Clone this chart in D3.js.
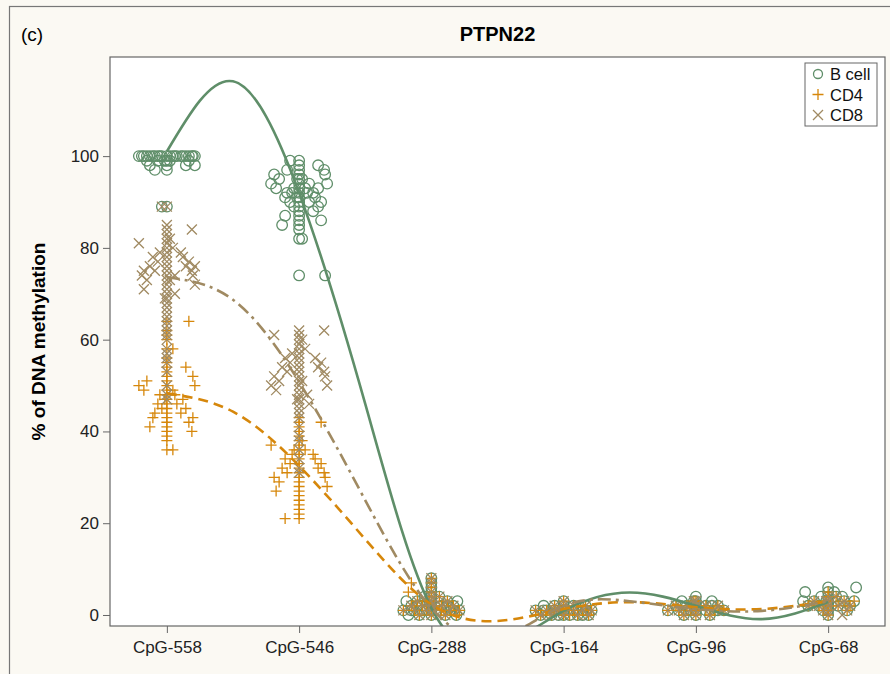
<!DOCTYPE html>
<html>
<head>
<meta charset="utf-8">
<script src="https://cdn.jsdelivr.net/npm/d3@7"></script>
<style>
  body { margin: 0; background: #fbf9f3; }
  svg { display: block; font-family: "Liberation Sans", Arial, sans-serif; }
</style>
</head>
<body>
<svg width="890" height="674"></svg>
<script>
const cpgs = ['CpG-558', 'CpG-546', 'CpG-288', 'CpG-164', 'CpG-96', 'CpG-68']
const groups = ['B cell', 'CD4', 'CD8']
const yTicks = [0, 20, 40, 60, 80, 100]

// % methylation per subject, one list per CpG site
const bcell = [
  [100,100,100,100,100,100,100,100,100,100,100,100,100,100,100,100,100,100,100,100,100,100,99,99,99,99,99,99,98,98,98,98,97,97,89,89],
  [99,99,98,98,97,97,97,96,96,96,95,95,95,95,94,94,94,94,93,93,93,93,93,92,92,92,92,92,91,91,91,91,90,90,90,90,89,89,89,88,88,87,87,86,86,85,85,84,82,82,74,74],
  [8,7,6,5,4,4,4,3,3,3,3,3,3,2,2,2,2,2,2,2,2,2,1,1,1,1,1,1,1,1,1,1,0,0,0,0,0],
  [3,2,2,2,2,2,1,1,1,1,1,1,1,1,1,1,1,1,0,0,0,0,0,0,0,0],
  [4,3,3,3,3,2,2,2,2,2,2,2,2,1,1,1,1,1,1,1,1,1,0,0,0],
  [6,6,5,5,5,4,4,4,4,3,3,3,3,3,3,2,2,2,2,2,2,1,1,1,0]
]
const cd4 = [
  [64,64,62,61,60,58,58,56,55,54,54,53,52,52,51,51,50,50,50,49,49,49,48,48,48,47,47,47,46,46,46,45,45,45,44,44,44,43,43,43,42,42,41,41,40,40,39,38,36,36],
  [43,42,42,41,40,39,38,38,37,37,36,36,36,35,35,35,34,34,34,33,33,33,32,32,32,31,31,31,30,30,30,29,29,28,28,27,27,26,25,24,23,22,21,21],
  [8,7,7,6,5,5,4,4,3,3,3,3,2,2,2,2,2,2,1,1,1,1,1,1,1,0,0,0,0],
  [3,2,2,2,2,1,1,1,1,1,1,1,1,1,0,0,0,0,0,0],
  [3,3,2,2,2,2,2,2,1,1,1,1,1,1,1,0,0,0],
  [5,4,4,3,3,3,3,3,2,2,2,2,2,2,1,1,1,0]
]
const cd8 = [
  [89,89,85,84,84,83,82,82,81,81,80,80,79,79,79,78,78,78,77,77,77,76,76,76,76,75,75,75,75,74,74,74,74,73,73,73,72,72,71,71,70,70,69,69,68,67,66,65,64,63,62,61,60,58,57,56,55,53,50,48,47],
  [62,62,61,61,60,60,59,58,58,57,57,56,56,56,55,55,55,54,54,54,53,53,53,52,52,52,51,51,51,50,50,50,49,49,48,48,47,47,46,46,45,44,43,41,39,38,36,34,32,31],
  [8,7,5,4,4,3,3,3,3,2,2,2,2,2,2,1,1,1,1,1,1,1,0,0,0],
  [3,2,2,2,2,1,1,1,1,1,1,1,1,0,0,0,0,0],
  [3,3,2,2,2,2,2,1,1,1,1,1,1,0,0,0],
  [4,4,3,3,3,3,2,2,2,2,2,1,1,1,0,0]
]

const fitSteps = [0, 0.5, 1, 1.5, 2, 2.5, 3, 3.5, 4, 4.5, 5]
const bcellFit = [101, 116.3, 92, 46, 1.5, -7, 0.9, 4.9, 2, -0.9, 2.8]
const cd4Fit = [48.3, 44.3, 32.5, 16.5, 2.3, -1.3, 1.3, 2.8, 1.7, 1.3, 3]
const cd8Fit = [73.6, 68.7, 50.8, 25, 1.5, -5, 2, 3, 1.3, 0.9, 3]

const colors = ['#5f8e69', '#d6870b', '#a08a62']
const dashes = [null, '10,6', '13,5,3,5']
const shapes = [null, 'M-5.5,0H5.5M0,-5.5V5.5', 'M-5,-5L5,5M-5,5L5,-5']

// sideways offsets (px) for the extra copies of a tied value; the first copy sits on the tick
const jitterSteps = [14, -12, 25, -23, 6, -5, 19, -17, 28, -28, 10, -9, 22, -20, 3, -2, 16, -14, 26, -25, 8, -7]

const svg = d3.select('svg')
const pLeft = 110, pRight = 885, pTop = 57, pBottom = 626

svg.append('rect')
  .attr('x', 9.5).attr('y', 6.5)
  .attr('width', 890).attr('height', 700)
  .attr('fill', 'none').attr('stroke', '#777').attr('stroke-width', 1.2)

const x = d3.scalePoint().domain(cpgs).range([pLeft, pRight]).padding(0.43)
const xi = d3.scaleLinear().domain([0, cpgs.length - 1]).range([x(cpgs[0]), x(cpgs[cpgs.length - 1])])
const y = d3.scaleLinear().domain([-2.4, 121.6]).range([pBottom, pTop])

svg.append('rect')
  .attr('x', pLeft).attr('y', pTop)
  .attr('width', pRight - pLeft).attr('height', pBottom - pTop)
  .attr('fill', '#fff')

svg.append('clipPath').attr('id', 'plot')
  .append('rect')
  .attr('x', pLeft).attr('y', pTop)
  .attr('width', pRight - pLeft).attr('height', pBottom - pTop)

function jitter(vals) {
  const seen = new Map()
  return vals.map(v => {
    const k = seen.get(v) || 0
    seen.set(v, k + 1)
    if (k === 0) return [0, v]
    return [jitterSteps[(k - 1 + v * 5) % jitterSteps.length], v]
  })
}

const plot = svg.append('g').attr('clip-path', 'url(#plot)')

;[bcell, cd4, cd8].forEach((series, gi) => {
  const pts = []
  series.forEach((vals, ci) => {
    jitter(vals).forEach(d => pts.push({ x: x(cpgs[ci]) + d[0], v: d[1] }))
  })
  const g = plot.append('g')
    .selectAll('g')
    .data(pts)
    .enter()
    .append('g')
    .attr('transform', d => `translate(${d.x},${y(d.v)})`)
  if (gi === 0) {
    g.append('circle').attr('r', 5.3)
      .attr('fill', 'none').attr('stroke', colors[gi]).attr('stroke-width', 1.3)
  } else {
    g.append('path').attr('d', shapes[gi])
      .attr('fill', 'none').attr('stroke', colors[gi]).attr('stroke-width', 1.3)
  }
})

const line = d3.line()
  .x((d, i) => xi(fitSteps[i]))
  .y(d => y(d))
  .curve(d3.curveNatural)

;[bcellFit, cd4Fit, cd8Fit].forEach((fit, gi) => {
  plot.append('path')
    .attr('d', line(fit))
    .attr('fill', 'none')
    .attr('stroke', colors[gi])
    .attr('stroke-width', 2.6)
    .attr('stroke-dasharray', dashes[gi])
})

svg.append('rect')
  .attr('x', pLeft).attr('y', pTop)
  .attr('width', pRight - pLeft).attr('height', pBottom - pTop)
  .attr('fill', 'none').attr('stroke', '#666').attr('stroke-width', 1.2)

const yAxis = svg.append('g')
  .attr('transform', `translate(${pLeft},0)`)
  .call(d3.axisLeft(y).tickValues(yTicks).tickSize(7).tickPadding(4))
yAxis.select('.domain').remove()
yAxis.selectAll('line').attr('stroke', '#666')
yAxis.selectAll('text').attr('font-size', 17).attr('fill', '#222').attr('font-family', 'Liberation Sans, Arial, sans-serif')

const xAxis = svg.append('g')
  .attr('transform', `translate(0,${pBottom})`)
  .call(d3.axisBottom(x).tickSize(7).tickPadding(8))
xAxis.select('.domain').remove()
xAxis.selectAll('line').attr('stroke', '#666')
xAxis.selectAll('text').attr('font-size', 17).attr('fill', '#222').attr('font-family', 'Liberation Sans, Arial, sans-serif')

svg.append('text')
  .attr('x', (pLeft + pRight) / 2).attr('y', 41)
  .attr('text-anchor', 'middle')
  .attr('font-size', 20).attr('font-weight', 'bold')
  .text('PTPN22')

svg.append('text')
  .attr('x', 21).attr('y', 41)
  .attr('font-size', 19)
  .text('(c)')

svg.append('text')
  .attr('transform', `translate(45,${(pTop + pBottom) / 2}) rotate(-90)`)
  .attr('text-anchor', 'middle')
  .attr('font-size', 19).attr('font-weight', 'bold')
  .text('% of DNA methylation')

// legend
const lg = svg.append('g').attr('transform', 'translate(805,63)')
lg.append('rect')
  .attr('width', 72).attr('height', 63)
  .attr('fill', '#fff').attr('stroke', '#666').attr('stroke-width', 1)
const items = lg.selectAll('g.item')
  .data(groups)
  .enter()
  .append('g')
  .attr('class', 'item')
  .attr('transform', (d, i) => `translate(13,${11 + i * 20.5})`)
items.each(function (d, i) {
  const g = d3.select(this)
  if (i === 0) {
    g.append('circle').attr('r', 4.5)
      .attr('fill', 'none').attr('stroke', colors[i]).attr('stroke-width', 1.3)
  } else {
    g.append('path').attr('d', shapes[i])
      .attr('fill', 'none').attr('stroke', colors[i]).attr('stroke-width', 1.3)
  }
})
items.append('text')
  .attr('x', 12).attr('y', 6)
  .attr('font-size', 16.5)
  .attr('fill', '#111')
  .text(d => d)
</script>
</body>
</html>
